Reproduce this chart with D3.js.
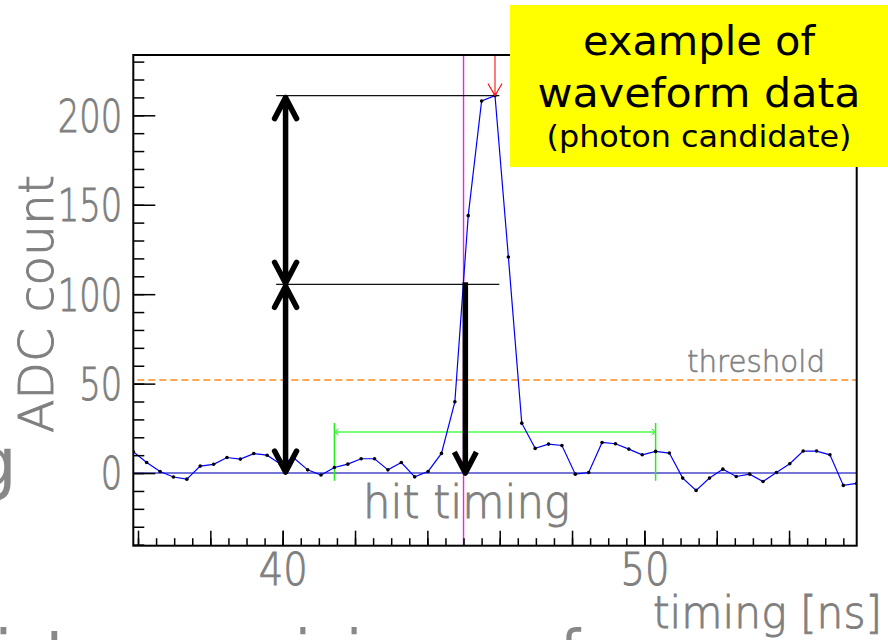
<!DOCTYPE html>
<html>
<head>
<meta charset="utf-8">
<script src="https://cdn.jsdelivr.net/npm/d3@7"></script>
<style>
  body { margin: 0; background: #fff; }
  svg { display: block; }
</style>
</head>
<body>
<svg id="chart" width="888" height="640"></svg>
<script>
// waveform samples (timing in ns, ADC counts)
const timeNs = [35.87, 36.24, 36.61, 36.98, 37.35, 37.72, 38.09, 38.46, 38.83, 39.20,
  39.57, 39.94, 40.31, 40.69, 41.06, 41.43, 41.80, 42.17, 42.54, 42.91,
  43.28, 43.65, 44.02, 44.39, 44.76, 45.13, 45.50, 45.87, 46.24, 46.61,
  46.98, 47.35, 47.72, 48.09, 48.46, 48.83, 49.20, 49.57, 49.94, 50.31,
  50.69, 51.06, 51.43, 51.80, 52.17, 52.54, 52.91, 53.28, 53.65, 54.02,
  54.39, 54.76, 55.13, 55.50, 55.87];
const adcCount = [11.9, 5.9, 0.9, -2.2, -3.4, 3.9, 4.9, 8.7, 7.8, 10.9,
  10.0, 5.0, 8.4, 1.8, -1.1, 3.1, 5.0, 8.0, 8.0, 1.8,
  5.9, -2.1, 0.9, 11.0, 39.8, 143.9, 208.0, 211.0, 120.8, 27.9,
  13.8, 16.2, 15.4, -0.6, 0.3, 17.1, 16.4, 13.4, 10.2, 12.1,
  11.2, -2.8, -9.7, -2.8, 2.2, -1.9, -0.6, -4.7, 0.3, 5.2,
  12.3, 12.3, 10.2, -6.9, -5.8];

const yLabelTicks = [0, 50, 100, 150, 200];
const xLabelTicks = [40, 50];
const boxLines = ['example of', 'waveform data', '(photon candidate)'];

// annotation values
const thresholdAdc = 52;
const peakAdc = 211.0;
const halfPeakAdc = 105.5;
const peakTimeNs = 45.87;
const hitTimeNs = 45.0;
const hitArrowNs = 45.05;
const heightArrowNs = 40.08;
const guideNs = [39.82, 45.99];
const windowNs = [41.43, 50.31];
const windowAdc = 23;
const windowBarAdc = [28, -4.3];

const plot = { left: 133.3, right: 856.7, top: 55, bottom: 545.7 };
const grey = '#7f7f7f';
const font = '"DejaVu Sans", sans-serif';

const svg = d3.select('#chart');
svg.append('rect').attr('width', 888).attr('height', 640).attr('fill', '#fff');

const x = d3.scaleLinear().domain([35.87, 55.87]).range([plot.left, plot.right]);
const y = d3.scaleLinear().domain([-40.6, 233.7]).range([plot.bottom, plot.top]);

// bits of the slide behind the plot
svg.append('text').attr('x', 17).attr('y', 487).attr('text-anchor', 'end')
  .attr('font-family', font).attr('font-size', 70).attr('fill', '#888').text('g');
svg.append('text').attr('x', 225).attr('y', 676).attr('text-anchor', 'end')
  .attr('font-family', font).attr('font-size', 64).attr('fill', '#888').text('distance');
svg.append('text').attr('x', 240).attr('y', 676)
  .attr('font-family', font).attr('font-size', 64).attr('fill', '#888')
  .attr('textLength', 340).attr('lengthAdjust', 'spacingAndGlyphs')
  .text('minimum of');

svg.append('clipPath').attr('id', 'plotClip').append('rect')
  .attr('x', plot.left).attr('y', plot.top)
  .attr('width', plot.right - plot.left).attr('height', plot.bottom - plot.top);

const inner = svg.append('g').attr('clip-path', 'url(#plotClip)');

// threshold
inner.append('line')
  .attr('x1', x(35.87)).attr('x2', x(55.87))
  .attr('y1', y(thresholdAdc)).attr('y2', y(thresholdAdc))
  .attr('stroke', '#ff8a1c').attr('stroke-width', 1.5)
  .attr('stroke-dasharray', '7,4').attr('stroke-dashoffset', -4);

// pedestal line
inner.append('line')
  .attr('x1', x(35.87)).attr('x2', x(55.87))
  .attr('y1', y(0)).attr('y2', y(0))
  .attr('stroke', '#4848c8').attr('stroke-width', 1.5);

// hit timing marker
inner.append('line')
  .attr('x1', x(hitTimeNs)).attr('x2', x(hitTimeNs))
  .attr('y1', plot.top).attr('y2', plot.bottom)
  .attr('stroke', '#e825e8').attr('stroke-width', 1.4);

// peak and half-peak guides
[peakAdc, halfPeakAdc].forEach((v) => {
  inner.append('line')
    .attr('x1', x(guideNs[0])).attr('x2', x(guideNs[1]))
    .attr('y1', y(v)).attr('y2', y(v))
    .attr('stroke', '#111').attr('stroke-width', 1.4);
});

// integration window
const green = inner.append('g');
windowNs.forEach((t) => {
  green.append('line')
    .attr('x1', x(t)).attr('x2', x(t))
    .attr('y1', y(windowBarAdc[0])).attr('y2', y(windowBarAdc[1]))
    .attr('stroke', '#22ee22').attr('stroke-width', 1.5);
});
green.append('line')
  .attr('x1', x(windowNs[0])).attr('x2', x(windowNs[1]))
  .attr('y1', y(windowAdc)).attr('y2', y(windowAdc))
  .attr('stroke', '#77ff77').attr('stroke-width', 2);
green.append('path')
  .attr('d', `M${x(windowNs[0]) + 4},${y(windowAdc) - 3}L${x(windowNs[0])},${y(windowAdc)}L${x(windowNs[0]) + 4},${y(windowAdc) + 3}` +
    `M${x(windowNs[1]) - 4},${y(windowAdc) - 3}L${x(windowNs[1])},${y(windowAdc)}L${x(windowNs[1]) - 4},${y(windowAdc) + 3}`)
  .attr('fill', 'none').attr('stroke', '#22ee22').attr('stroke-width', 1);

// waveform
const line = d3.line()
  .x((d, i) => x(timeNs[i]))
  .y((d) => y(d));
inner.append('path')
  .datum(adcCount)
  .attr('d', line)
  .attr('fill', 'none')
  .attr('stroke', '#0000ff')
  .attr('stroke-width', 1.2);
inner.append('g')
  .selectAll('circle')
  .data(adcCount)
  .enter().append('circle')
  .attr('cx', (d, i) => x(timeNs[i]))
  .attr('cy', (d) => y(d))
  .attr('r', 1.8)
  .attr('fill', '#000');

// red peak arrow
inner.append('path')
  .attr('d', `M${x(peakTimeNs)},${plot.top}L${x(peakTimeNs)},${y(peakAdc)}` +
    `M${x(peakTimeNs) - 7},${y(peakAdc) - 12}L${x(peakTimeNs)},${y(peakAdc)}L${x(peakTimeNs) + 7},${y(peakAdc) - 12}`)
  .attr('fill', 'none').attr('stroke', '#ff1010').attr('stroke-width', 1.1);

// thick black arrows
function head(px, py, dir) {
  return `M${px - 11},${py + dir * 21}L${px},${py}L${px + 11},${py + dir * 21}`;
}
const arrows = svg.append('g')
  .attr('fill', 'none').attr('stroke', '#000').attr('stroke-width', 5.5)
  .attr('stroke-linecap', 'round').attr('stroke-linejoin', 'round');
const ax = x(heightArrowNs);
[[peakAdc, halfPeakAdc], [halfPeakAdc, 0]].forEach(([a, b]) => {
  const y1 = y(a) + 2, y2 = y(b) - 1;
  arrows.append('path')
    .attr('d', `M${ax},${y1}L${ax},${y2}` + head(ax, y1, 1) + head(ax, y2, -1));
});
const hx = x(hitArrowNs);
arrows.append('path')
  .attr('d', `M${hx},${y(halfPeakAdc) - 2}L${hx},${y(0)}` + head(hx, y(0), -1))
  .attr('stroke-linecap', 'butt');

// axes
function styleAxis(g) {
  g.select('.domain').remove();
  g.selectAll('line').attr('stroke', '#000').attr('stroke-width', 1.5);
}
function greyLabels(g) {
  g.selectAll('text')
    .attr('font-family', font).attr('font-weight', 200).attr('font-size', 44)
    .attr('fill', grey).attr('stroke', grey).attr('stroke-width', 0.9)
    .attr('lengthAdjust', 'spacingAndGlyphs');
}
const yAxisG = svg.append('g').attr('transform', `translate(${plot.left},0)`);
yAxisG.append('g')
  .call(d3.axisLeft(y).tickValues(d3.range(-40, 231, 10)).tickSize(-11).tickFormat(''))
  .call(styleAxis);
yAxisG.append('g')
  .call(d3.axisLeft(y).tickValues(yLabelTicks).tickSize(-22).tickPadding(11))
  .call(styleAxis)
  .call(greyLabels)
  .call((g) => g.selectAll('text')
    .attr('dy', '0.36em')
    .attr('textLength', (d) => String(d).length * 21.5));

const xAxisG = svg.append('g').attr('transform', `translate(0,${plot.bottom})`);
xAxisG.append('g')
  .call(d3.axisBottom(x).tickValues(d3.range(36, 56, 0.5)).tickSize(-7.5).tickFormat(''))
  .call(styleAxis);
xAxisG.append('g')
  .call(d3.axisBottom(x).tickValues(d3.range(36, 56, 2)).tickSize(-15).tickFormat(''))
  .call(styleAxis);
xAxisG.append('g')
  .call(d3.axisBottom(x).tickValues(xLabelTicks).tickSize(-15).tickPadding(8))
  .call(styleAxis)
  .call(greyLabels)
  .call((g) => g.selectAll('text').attr('textLength', 49));

// frame
svg.append('rect')
  .attr('x', plot.left).attr('y', plot.top)
  .attr('width', plot.right - plot.left).attr('height', plot.bottom - plot.top)
  .attr('fill', 'none').attr('stroke', '#000').attr('stroke-width', 2);

// grey labels
function greyText(txt, px, py, size, len, anchor) {
  return svg.append('text')
    .attr('x', px).attr('y', py)
    .attr('text-anchor', anchor || 'start')
    .attr('font-family', font).attr('font-weight', 200)
    .attr('font-size', size).attr('fill', grey)
    .attr('stroke', grey).attr('stroke-width', size > 40 ? 0.9 : 0.6)
    .attr('textLength', len).attr('lengthAdjust', 'spacingAndGlyphs')
    .text(txt);
}
greyText('ADC count', 0, 0, 48, 258, 'middle')
  .attr('transform', 'translate(53,304) rotate(-90)');
greyText('hit timing', 363, 518, 46, 207);
greyText('threshold', 687, 372, 31, 138);
greyText('timing [ns]', 653, 628, 44, 229);

// yellow note
svg.append('rect')
  .attr('x', 510).attr('y', 5).attr('width', 378).attr('height', 162)
  .attr('fill', '#ffff00');
const boxSpec = [[55, 40, 232], [107, 40, 323], [147, 30, 305]];
boxLines.forEach((t, i) => {
  svg.append('text')
    .attr('x', 699).attr('y', boxSpec[i][0])
    .attr('text-anchor', 'middle')
    .attr('font-family', font).attr('font-size', boxSpec[i][1])
    .attr('fill', '#000')
    .attr('textLength', boxSpec[i][2]).attr('lengthAdjust', 'spacingAndGlyphs')
    .text(t);
});
</script>
</body>
</html>
